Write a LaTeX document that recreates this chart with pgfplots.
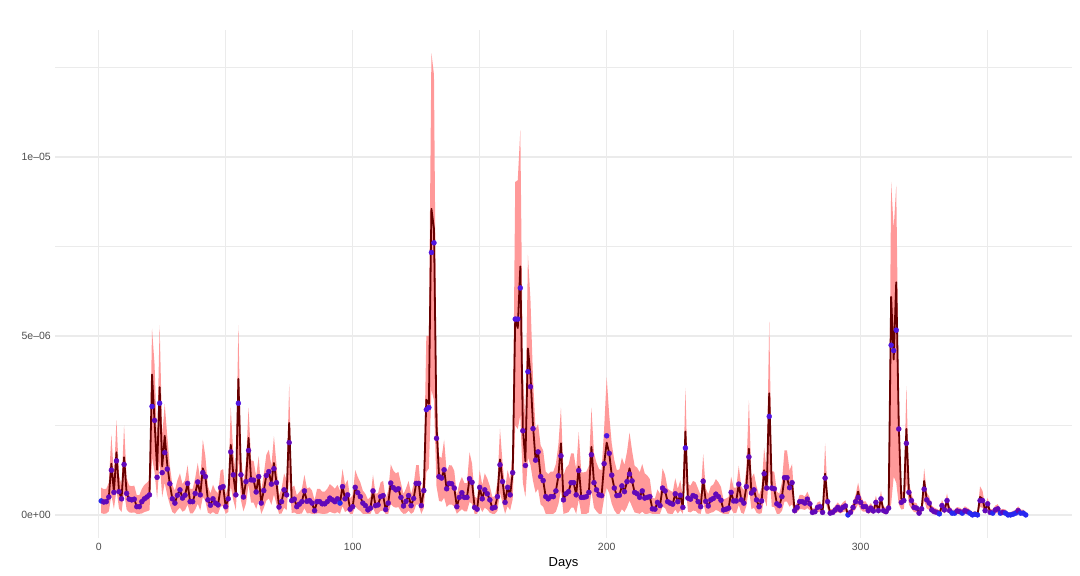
\documentclass[border=0pt]{standalone}
\usepackage{pgfplots}
\pgfplotsset{compat=1.18}
\usepackage{pgfplotstable}
\usepgfplotslibrary{fillbetween}
\usepackage{fontspec}
\setmainfont{Liberation Sans}
\definecolor{ribbon}{RGB}{255,153,153}
\definecolor{fitline}{RGB}{102,0,0}
\definecolor{ptpurple}{RGB}{98,8,185}
\definecolor{ptviolet}{RGB}{80,20,225}
\definecolor{ptblue}{RGB}{40,40,240}
\definecolor{gridc}{RGB}{235,235,235}
\definecolor{tickc}{RGB}{77,77,77}
\pgfplotstableread{
d y f lo hi c
1 0.39 0.39 0.05 0.76 b
2 0.36 0.36 0.03 0.72 a
3 0.37 0.37 0.04 0.73 a
4 0.50 0.50 0.10 0.90 a
5 1.25 1.43 0.55 2.25 a
6 0.63 0.63 0.17 1.07 a
7 1.51 1.75 0.70 2.65 a
8 0.65 0.65 0.18 1.10 a
9 0.45 0.45 0.08 0.84 a
10 1.41 1.61 0.65 2.50 a
11 0.60 0.60 0.15 1.03 a
12 0.44 0.44 0.07 0.82 a
13 0.42 0.42 0.06 0.80 a
14 0.44 0.44 0.07 0.82 a
15 0.23 0.23 0.03 0.55 a
16 0.23 0.23 0.03 0.55 a
17 0.37 0.37 0.04 0.73 a
18 0.45 0.45 0.08 0.84 a
19 0.50 0.50 0.10 0.90 a
20 0.56 0.56 0.13 0.98 a
21 3.03 3.92 1.60 5.20 v
22 2.64 2.60 1.20 4.20 a
23 1.05 1.26 0.45 2.00 a
24 3.12 3.57 1.50 5.30 v
25 1.18 1.35 0.50 2.20 a
26 1.74 2.21 0.90 3.10 a
27 1.28 1.40 0.55 2.20 a
28 0.87 0.87 0.29 1.38 a
29 0.45 0.45 0.08 0.84 a
30 0.33 0.33 0.03 0.68 a
31 0.55 0.55 0.13 0.97 a
32 0.70 0.70 0.20 1.16 a
33 0.47 0.47 0.09 0.86 a
34 0.55 0.55 0.13 0.97 a
35 0.88 0.88 0.29 1.39 a
36 0.37 0.37 0.04 0.73 a
37 0.37 0.37 0.04 0.73 a
38 0.60 0.60 0.15 1.03 a
39 0.92 0.92 0.31 1.45 a
40 0.56 0.56 0.13 0.98 a
41 1.18 1.30 0.50 2.10 a
42 1.07 1.07 0.39 1.64 a
43 0.42 0.42 0.06 0.80 a
44 0.27 0.27 0.03 0.60 a
45 0.45 0.45 0.08 0.84 a
46 0.33 0.33 0.03 0.68 a
47 0.28 0.28 0.03 0.61 a
48 0.76 0.76 0.23 1.24 a
49 0.79 0.79 0.25 1.28 a
50 0.23 0.23 0.03 0.55 a
51 0.45 0.45 0.08 0.84 a
52 1.76 1.96 0.80 3.00 a
53 1.12 1.12 0.41 1.71 a
54 0.56 0.56 0.13 1.20 a
55 3.12 3.80 1.60 5.30 v
56 1.12 1.12 0.41 1.71 a
57 0.50 0.50 0.10 0.90 a
58 0.93 0.93 0.32 1.46 a
59 1.80 2.15 0.85 3.00 a
60 0.98 0.98 0.34 1.52 a
61 0.97 0.97 0.34 1.51 a
62 0.64 0.64 0.17 1.08 a
63 1.07 1.07 0.39 1.64 a
64 0.33 0.33 0.03 0.68 a
65 0.68 0.68 0.19 1.13 a
66 1.10 1.10 0.40 1.68 a
67 1.21 1.21 0.46 1.82 a
68 0.86 0.86 0.28 1.37 a
69 1.29 1.45 0.57 2.20 a
70 0.90 0.90 0.30 1.42 a
71 0.22 0.22 0.03 0.54 a
72 0.37 0.37 0.04 0.73 a
73 0.70 0.70 0.20 1.16 a
74 0.56 0.56 0.13 0.98 a
75 2.02 2.57 1.05 3.65 a
76 0.40 0.40 0.05 0.77 a
77 0.44 0.44 0.07 0.82 a
78 0.23 0.23 0.03 0.55 a
79 0.30 0.30 0.03 0.64 a
80 0.37 0.37 0.04 0.73 a
81 0.67 0.67 0.19 1.12 a
82 0.38 0.38 0.04 0.74 a
83 0.40 0.40 0.05 0.77 a
84 0.33 0.33 0.03 0.68 a
85 0.12 0.12 0.03 0.41 a
86 0.37 0.37 0.04 0.73 a
87 0.37 0.37 0.04 0.73 a
88 0.31 0.31 0.03 0.65 a
89 0.31 0.31 0.03 0.65 a
90 0.37 0.37 0.04 0.73 a
91 0.47 0.47 0.09 0.86 a
92 0.42 0.42 0.06 0.80 a
93 0.37 0.37 0.04 0.73 a
94 0.45 0.45 0.08 0.84 a
95 0.33 0.33 0.03 0.68 b
96 0.79 0.79 0.25 1.28 a
97 0.45 0.45 0.08 0.84 a
98 0.56 0.56 0.13 0.98 a
99 0.16 0.16 0.03 0.46 a
100 0.23 0.23 0.03 0.55 a
101 0.77 0.77 0.24 1.25 a
102 0.62 0.62 0.16 1.06 a
103 0.51 0.51 0.11 0.91 a
104 0.33 0.33 0.03 0.68 a
105 0.26 0.26 0.03 0.59 a
106 0.14 0.14 0.03 0.43 a
107 0.19 0.19 0.03 0.50 a
108 0.67 0.67 0.19 1.12 a
109 0.26 0.26 0.03 0.59 a
110 0.28 0.28 0.03 0.61 a
111 0.51 0.51 0.11 0.91 a
112 0.54 0.54 0.12 0.95 a
113 0.15 0.15 0.03 0.45 a
114 0.33 0.33 0.03 0.68 a
115 0.89 0.89 0.30 1.41 a
116 0.76 0.76 0.23 1.24 a
117 0.70 0.70 0.20 1.16 a
118 0.73 0.73 0.22 1.20 a
119 0.49 0.49 0.10 0.89 a
120 0.25 0.25 0.03 0.58 a
121 0.38 0.38 0.04 0.74 a
122 0.54 0.54 0.12 0.95 a
123 0.26 0.26 0.03 0.59 a
124 0.46 0.46 0.08 0.85 a
125 0.88 0.88 0.29 1.39 a
126 0.88 0.88 0.29 1.39 a
127 0.26 0.26 0.03 0.59 a
128 0.68 0.68 0.19 1.13 a
129 2.94 3.22 1.20 5.00 v
130 3.00 3.10 1.30 5.00 v
131 7.33 8.55 3.50 12.90 v
132 7.60 8.00 3.20 12.30 v
133 2.14 2.50 0.80 3.60 a
134 1.07 1.07 0.39 1.64 a
135 1.03 1.03 0.37 1.59 a
136 1.26 1.26 0.48 2.10 a
137 0.73 0.73 0.22 1.20 a
138 0.88 0.88 0.29 1.39 a
139 0.87 0.87 0.29 1.38 a
140 0.75 0.75 0.23 1.23 a
141 0.23 0.23 0.03 0.55 a
142 0.49 0.49 0.10 0.89 a
143 0.62 0.62 0.16 1.06 a
144 0.49 0.49 0.10 0.89 a
145 0.49 0.49 0.10 0.89 a
146 1.01 1.01 0.36 1.75 a
147 0.91 0.91 0.31 1.43 a
148 0.21 0.21 0.03 0.52 a
149 0.16 0.16 0.03 0.46 a
150 0.77 0.77 0.24 1.25 a
151 0.45 0.45 0.08 0.84 a
152 0.70 0.70 0.20 1.16 a
153 0.59 0.59 0.15 1.02 a
154 0.42 0.42 0.06 0.80 a
155 0.19 0.19 0.03 0.50 a
156 0.21 0.21 0.03 0.52 a
157 0.51 0.51 0.11 0.91 a
158 1.40 1.55 0.63 2.40 a
159 0.93 0.93 0.32 1.46 a
160 0.35 0.35 0.03 0.71 a
161 0.77 0.77 0.24 1.25 a
162 0.56 0.56 0.13 0.98 a
163 1.18 1.18 0.44 1.78 a
164 5.47 5.50 2.50 9.30 v
165 5.47 5.22 2.40 9.35 v
166 6.34 6.94 2.80 10.75 v
167 2.35 2.40 0.90 4.00 a
168 1.38 1.50 0.50 2.60 a
169 4.00 4.65 1.60 7.26 v
170 3.58 3.90 1.40 6.00 a
171 2.41 2.50 0.95 3.80 a
172 1.53 1.53 0.62 2.40 a
173 1.76 1.76 0.73 2.54 a
174 1.07 1.07 0.29 1.94 a
175 0.96 0.96 0.23 1.80 a
176 0.51 0.51 0.03 1.21 a
177 0.45 0.45 0.03 1.14 a
178 0.51 0.51 0.03 1.21 a
179 0.51 0.51 0.03 1.21 a
180 0.67 0.67 0.09 1.42 a
181 1.09 1.09 0.30 1.97 a
182 1.65 2.00 0.70 3.00 a
183 0.42 0.42 0.03 1.10 a
184 0.59 0.59 0.05 1.32 a
185 0.65 0.65 0.08 1.40 a
186 0.90 0.90 0.20 1.72 a
187 0.90 0.90 0.20 1.72 a
188 0.56 0.56 0.03 1.28 a
189 1.24 1.35 0.43 2.31 a
190 0.49 0.49 0.03 1.19 a
191 0.49 0.49 0.03 1.19 a
192 0.51 0.51 0.03 1.21 a
193 0.63 0.63 0.07 1.37 a
194 1.68 1.90 0.68 3.00 a
195 0.90 0.90 0.20 1.72 a
196 0.70 0.70 0.10 1.46 a
197 0.56 0.56 0.03 1.28 a
198 0.54 0.54 0.03 1.25 a
199 1.43 1.43 0.47 2.41 a
200 2.21 2.02 0.76 3.85 v
201 1.72 1.72 0.61 2.79 a
202 1.11 1.11 0.31 1.99 a
203 0.75 0.75 0.13 1.53 a
204 0.54 0.54 0.03 1.25 a
205 0.55 0.55 0.03 1.27 a
206 0.81 0.81 0.16 1.60 a
207 0.65 0.65 0.08 1.40 a
208 0.93 0.93 0.22 1.76 a
209 1.14 1.30 0.40 2.30 a
210 0.95 0.95 0.23 1.79 a
211 0.63 0.63 0.07 1.37 a
212 0.59 0.59 0.05 1.32 a
213 0.49 0.49 0.03 1.19 a
214 0.67 0.67 0.09 1.42 a
215 0.47 0.47 0.03 1.16 a
216 0.49 0.49 0.03 1.10 a
217 0.51 0.51 0.05 1.00 a
218 0.17 0.17 0.03 0.47 a
219 0.16 0.16 0.03 0.46 a
220 0.35 0.35 0.03 0.71 a
221 0.26 0.26 0.03 0.59 a
222 0.75 0.75 0.23 1.30 a
223 0.67 0.67 0.19 1.12 a
224 0.37 0.37 0.04 0.73 a
225 0.33 0.33 0.03 0.68 a
226 0.30 0.30 0.03 0.64 a
227 0.59 0.59 0.15 1.02 a
228 0.37 0.37 0.04 0.73 a
229 0.55 0.55 0.13 0.97 a
230 0.21 0.21 0.03 0.52 a
231 1.87 2.33 0.95 3.55 v
232 0.47 0.47 0.09 0.86 a
233 0.44 0.44 0.07 0.82 a
234 0.54 0.54 0.12 0.95 a
235 0.51 0.51 0.11 0.91 a
236 0.37 0.37 0.04 0.73 a
237 0.23 0.23 0.03 0.55 a
238 0.94 1.00 0.35 1.70 a
239 0.38 0.38 0.04 0.74 a
240 0.25 0.25 0.03 0.58 a
241 0.42 0.42 0.06 0.80 a
242 0.46 0.46 0.08 0.85 a
243 0.58 0.58 0.14 1.00 a
244 0.51 0.51 0.11 0.91 a
245 0.41 0.41 0.06 0.78 a
246 0.14 0.14 0.03 0.43 a
247 0.16 0.16 0.03 0.46 a
248 0.19 0.19 0.03 0.50 a
249 0.63 0.63 0.17 1.07 a
250 0.39 0.39 0.05 0.76 a
251 0.39 0.39 0.05 0.76 a
252 0.86 0.86 0.28 1.37 a
253 0.42 0.42 0.06 0.80 a
254 0.33 0.33 0.03 0.68 a
255 0.79 0.79 0.25 1.28 a
256 1.62 1.85 0.75 3.20 a
257 0.61 0.61 0.16 1.04 a
258 0.70 0.70 0.20 1.16 a
259 0.42 0.42 0.06 0.80 a
260 0.23 0.23 0.03 0.55 a
261 0.39 0.39 0.05 0.76 a
262 1.15 1.25 0.48 1.88 a
263 0.75 0.75 0.23 1.23 a
264 2.75 3.40 1.30 5.40 v
265 0.75 0.75 0.23 1.23 a
266 0.73 0.73 0.22 1.20 a
267 0.31 0.31 0.03 0.65 a
268 0.26 0.26 0.03 0.59 a
269 0.51 0.51 0.11 0.91 a
270 1.04 1.04 0.37 1.80 a
271 1.04 1.04 0.37 1.80 a
272 0.76 0.76 0.23 1.24 a
273 0.90 0.90 0.30 1.42 a
274 0.12 0.12 0.03 0.24 a
275 0.21 0.21 0.08 0.35 a
276 0.37 0.37 0.16 0.56 a
277 0.37 0.37 0.16 0.56 a
278 0.33 0.33 0.14 0.51 a
279 0.44 0.44 0.19 0.65 a
280 0.31 0.31 0.13 0.48 a
281 0.07 0.07 0.01 0.17 a
282 0.09 0.09 0.02 0.20 a
283 0.21 0.21 0.08 0.35 a
284 0.23 0.23 0.09 0.38 a
285 0.07 0.07 0.01 0.17 a
286 1.03 1.15 0.40 2.00 a
287 0.37 0.37 0.16 0.56 a
288 0.05 0.05 0.00 0.15 a
289 0.07 0.07 0.01 0.17 a
290 0.14 0.14 0.04 0.26 a
291 0.21 0.21 0.08 0.35 a
292 0.14 0.14 0.04 0.26 a
293 0.21 0.21 0.08 0.35 a
294 0.25 0.25 0.10 0.41 a
295 0.00 0.00 0.00 0.08 b
296 0.07 0.07 0.01 0.17 a
297 0.21 0.21 0.08 0.35 a
298 0.37 0.37 0.16 0.56 a
299 0.49 0.65 0.30 0.90 a
300 0.35 0.35 0.15 0.54 a
301 0.23 0.23 0.09 0.38 a
302 0.23 0.23 0.09 0.38 a
303 0.12 0.12 0.03 0.24 a
304 0.19 0.19 0.07 0.33 a
305 0.11 0.11 0.03 0.22 a
306 0.35 0.35 0.15 0.54 a
307 0.12 0.12 0.03 0.24 a
308 0.45 0.45 0.20 0.67 a
309 0.12 0.12 0.03 0.24 a
310 0.09 0.09 0.02 0.20 a
311 0.19 0.19 0.07 0.33 a
312 4.74 6.09 0.30 9.30 v
313 4.59 4.34 1.07 8.00 v
314 5.16 6.50 0.90 9.20 v
315 2.40 2.50 0.30 3.50 a
316 0.35 0.45 0.15 0.70 a
317 0.40 0.40 0.17 0.60 a
318 2.00 2.40 0.90 3.60 a
319 0.63 0.63 0.29 0.90 a
320 0.40 0.40 0.17 0.60 a
321 0.21 0.21 0.08 0.35 a
322 0.19 0.19 0.07 0.33 a
323 0.05 0.05 0.00 0.15 a
324 0.17 0.17 0.06 0.30 a
325 0.72 0.95 0.40 1.30 a
326 0.42 0.42 0.18 0.63 a
327 0.33 0.33 0.14 0.51 a
328 0.14 0.14 0.04 0.26 a
329 0.09 0.09 0.02 0.20 a
330 0.07 0.07 0.01 0.17 a
331 0.03 0.03 0.00 0.12 b
332 0.26 0.26 0.10 0.42 a
333 0.14 0.14 0.04 0.26 a
334 0.40 0.40 0.17 0.60 a
335 0.12 0.12 0.03 0.24 a
336 0.05 0.05 0.00 0.15 b
337 0.05 0.05 0.00 0.15 b
338 0.11 0.11 0.03 0.22 a
339 0.09 0.09 0.02 0.20 a
340 0.05 0.05 0.00 0.15 b
341 0.12 0.12 0.03 0.24 a
342 0.09 0.09 0.02 0.20 a
343 0.05 0.05 0.00 0.15 b
344 0.00 0.00 0.00 0.08 b
345 0.02 0.02 0.00 0.11 b
346 0.00 0.00 0.00 0.08 b
347 0.40 0.50 0.22 0.80 a
348 0.40 0.45 0.20 0.67 a
349 0.12 0.12 0.03 0.24 a
350 0.31 0.31 0.13 0.48 a
351 0.07 0.07 0.01 0.17 a
352 0.05 0.05 0.00 0.15 b
353 0.14 0.14 0.04 0.26 a
354 0.17 0.17 0.06 0.30 a
355 0.05 0.05 0.00 0.15 b
356 0.07 0.07 0.01 0.17 a
357 0.05 0.05 0.00 0.15 b
358 0.00 0.00 0.00 0.08 b
359 0.00 0.00 0.00 0.08 b
360 0.02 0.02 0.00 0.11 b
361 0.05 0.05 0.00 0.15 b
362 0.12 0.12 0.03 0.24 a
363 0.05 0.05 0.00 0.15 b
364 0.05 0.05 0.00 0.15 b
365 0.00 0.00 0.00 0.08 b
}\data
\begin{document}
\begin{tikzpicture}
\path (0,0) rectangle (1080bp,576bp);
\begin{axis}[
  at={(55bp,38bp)}, anchor=south west,
  scale only axis, width=1017bp, height=508bp,
  xmin=-17.2, xmax=383.2, ymin=-0.645, ymax=13.545,
  axis line style={draw=none},
  major tick length=0pt, minor tick length=0pt,
  xtick={0,100,200,300}, xticklabels={0,100,200,300},
  minor xtick={50,150,250,350},
  ytick={0,5,10}, yticklabels={0e+00,5e--06,1e--05},
  minor ytick={2.5,7.5,12.5},
  grid=both,
  major grid style={draw=gridc, line width=1.4bp},
  minor grid style={draw=gridc, line width=0.7bp},
  xticklabel style={font=\fontsize{10.5bp}{12bp}\selectfont, text=tickc, inner sep=0pt, anchor=north, yshift=-5bp},
  yticklabel style={font=\fontsize{10.5bp}{12bp}\selectfont, text=tickc, inner sep=0pt, anchor=east, xshift=-4bp},
  xlabel={Days},
  xlabel style={font=\fontsize{13bp}{15bp}\selectfont, text=black, inner sep=0pt, anchor=north, at={(axis description cs:0.5,0)}, yshift=-19bp},
]
\addplot[name path=hi, draw=none, forget plot] table[x=d, y=hi] {\data};
\addplot[name path=lo, draw=none, forget plot] table[x=d, y=lo] {\data};
\addplot[fill=ribbon, draw=none, forget plot] fill between[of=hi and lo];
\addplot[fitline, line width=1.8bp, line join=round, forget plot] table[x=d, y=f] {\data};
\addplot[scatter, only marks, point meta=explicit symbolic,
  scatter/classes={
    a={mark=*, mark size=2.5bp, draw=ptpurple, fill=ptpurple},
    v={mark=*, mark size=2.5bp, draw=ptviolet, fill=ptviolet},
    b={mark=*, mark size=2.5bp, draw=ptblue, fill=ptblue}}]
  table[x=d, y=y, meta=c] {\data};
\end{axis}
\end{tikzpicture}
\end{document}
